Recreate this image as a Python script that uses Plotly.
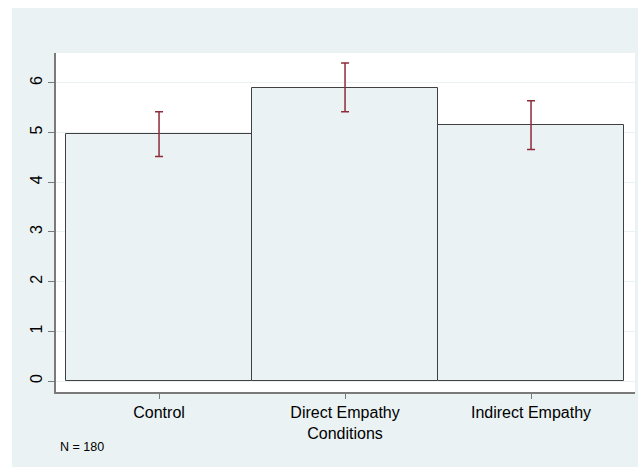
import plotly.graph_objects as go

# Data
categories = ["Control", "Direct Empathy<br>Conditions", "Indirect Empathy"]
positions = [1, 2, 3]
means = [4.97, 5.89, 5.15]
ci_upper = [5.42, 6.40, 5.64]
ci_lower = [4.52, 5.42, 4.66]
y_ticks = [0, 1, 2, 3, 4, 5, 6]
note_text = "N = 180"

err_plus = [u - m for u, m in zip(ci_upper, means)]
err_minus = [m - l for m, l in zip(means, ci_lower)]

OUTER = "#EAF2F3"
FONT = "Liberation Sans, Arial, sans-serif"

fig = go.Figure()
fig.add_trace(go.Bar(
    x=positions, y=means, width=1,
    marker=dict(color="#EAF2F3", line=dict(color="#404040", width=1)),
    error_y=dict(type="data", symmetric=False, array=err_plus, arrayminus=err_minus,
                 color="#8E2C3A", thickness=1.5, width=4),
    showlegend=False, hoverinfo="skip",
))

W, H = 638, 467
L, R, T, B = 56, 3, 53, 75
pw, ph = W - L - R, H - T - B

def px_x(px):
    return (px - L) / pw

def px_y(py):
    return 1 - (py - T) / ph

shapes = [
    # white strip on top of the outer region
    dict(type="rect", xref="paper", yref="paper", x0=px_x(-5), x1=px_x(W + 5),
         y0=px_y(8), y1=px_y(-5), fillcolor="white", line=dict(width=0), layer="below"),
    # white strip on left
    dict(type="rect", xref="paper", yref="paper", x0=px_x(-5), x1=px_x(12),
         y0=px_y(H + 5), y1=px_y(-5), fillcolor="white", line=dict(width=0), layer="below"),
]

fig.update_layout(
    width=W, height=H,
    margin=dict(l=L, r=R, t=T, b=B, pad=0),
    paper_bgcolor=OUTER, plot_bgcolor="white",
    font=dict(family=FONT, color="#000000", size=16),
    shapes=shapes,
    bargap=0,
    xaxis=dict(
        range=[0.446, 3.559], tickmode="array", tickvals=positions, ticktext=categories,
        showgrid=False, zeroline=False, showline=True, linecolor="#7a7a7a", linewidth=1.5,
        ticks="outside", ticklen=5, tickcolor="#7a7a7a", tickwidth=1,
        tickfont=dict(size=16, family=FONT, color="#000000"),
        fixedrange=True,
    ),
    yaxis=dict(
        range=[-0.22, 6.60], tickmode="array", tickvals=y_ticks,
        ticktext=[str(v) for v in y_ticks],
        showgrid=True, gridcolor=OUTER, gridwidth=1, zeroline=False,
        showline=True, linecolor="#7a7a7a", linewidth=1.5,
        ticks="outside", ticklen=6, tickcolor="#7a7a7a", tickwidth=1,
        tickangle=-90, tickfont=dict(size=16, family=FONT, color="#000000"),
        fixedrange=True,
    ),
    annotations=[dict(
        text=note_text, xref="paper", yref="paper", x=px_x(58), y=px_y(447),
        xanchor="left", yanchor="middle", showarrow=False,
        font=dict(size=12.5, family=FONT, color="#000000"),
    )],
)

fig.write_html(
    "out.html",
    config={"displayModeBar": False},
    post_script="document.body.style.margin='0';document.body.style.padding='0';",
)
